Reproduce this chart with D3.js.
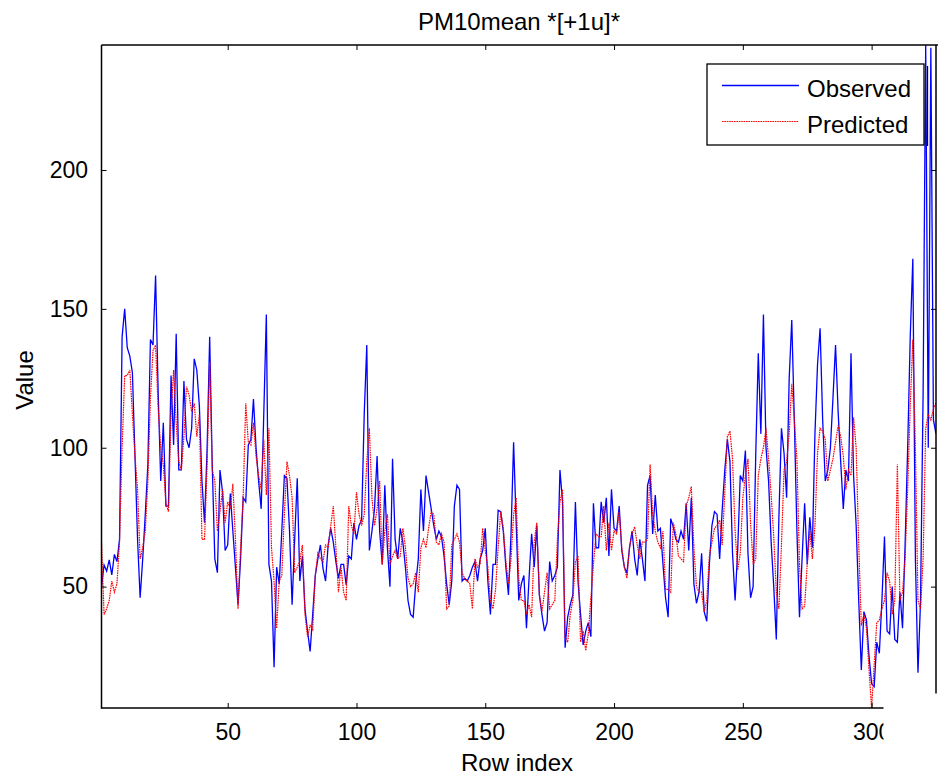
<!DOCTYPE html>
<html><head><meta charset="utf-8">
<script src="https://cdn.jsdelivr.net/npm/d3@7"></script>
<style>
body{margin:0;background:#fff}
svg{display:block}
text{font-family:"Liberation Sans",Arial,Helvetica,sans-serif;fill:#000}
</style>
</head><body>
<svg id="c" width="938" height="775"></svg>
<script>
const title = "PM10mean *[+1u]*";
const xLabel = "Row index";
const yLabel = "Value";
const seriesNames = ["Observed", "Predicted"];
const xTicks = [50, 100, 150, 200, 250, 300];
const yTicks = [50, 100, 150, 200];

const observed = [
 50, 57.8, 55.6, 59.6, 54.2, 61.6, 59, 67, 140, 150,
 136, 133, 127, 97, 67, 46, 60, 76, 94, 139,
 137, 162, 120, 88, 109, 79, 79, 126, 101, 141,
 92, 92, 124, 103, 100, 107, 132, 128, 115, 88,
 73, 99.6, 140, 93.6, 60, 55, 92, 84, 63, 65,
 83.5, 70, 57, 43.5, 60, 82, 80.5, 101, 103, 117.5,
 100, 88, 78, 112, 148, 58, 52, 21, 57, 51,
 70, 90, 89, 70, 43.5, 67, 89, 52, 61, 42,
 34, 26.7, 40, 54, 60, 65, 56.6, 52, 65, 71,
 66, 59, 53, 58, 58, 50.6, 61, 60, 73, 67,
 72, 74, 112, 137, 63, 70, 78, 97, 70, 58,
 86.5, 64, 50, 96, 67, 60, 71, 66, 57, 45,
 40, 39, 51, 60, 85, 70, 90, 84, 78, 72,
 67, 70, 68, 61, 51, 43.5, 52, 79, 86.5, 85,
 52, 53, 52, 54, 57, 59, 52, 60, 63, 71,
 52, 40, 58, 58, 77.5, 77, 70, 57, 47, 69,
 102, 73, 45, 51, 54, 35, 53, 69, 57, 72,
 47, 40, 34, 37, 59, 52, 54, 57, 92, 80.5,
 28, 39, 43.5, 47, 80.5, 52, 40, 29, 34, 37,
 32, 80, 64, 64, 80.5, 73, 82, 61, 85, 71,
 70, 79, 63, 57, 55, 64, 70, 60, 54, 67,
 60, 52, 86.5, 90, 69, 83, 70, 71, 58, 46,
 39, 74.5, 71.5, 67, 66, 70, 67, 80, 63, 82,
 51, 44, 48, 62, 41, 37.5, 58, 72, 77, 76,
 60, 78, 92, 103, 95, 62, 45, 63, 90, 88,
 99, 62, 46, 50, 97, 134, 105, 148, 100, 88,
 66, 50, 31, 75, 107, 98, 82, 125, 146, 110,
 70, 39, 60, 80, 58, 75, 64, 105, 130, 143,
 110, 88, 92, 100, 118, 137, 113, 95, 78, 92,
 88, 134, 90, 72, 45, 20, 41, 38, 25, 15,
 14, 30, 26, 45, 68, 34, 33, 50, 31, 30,
 48, 35, 65, 100, 140, 168, 60, 19, 45, 120,
 245, 100, 244, 110, 105
];

const predicted = [
 66, 40, 42, 45, 52, 48, 51, 66, 100, 126,
 126, 128, 112, 97, 85, 60, 64, 70, 88, 118,
 135, 137, 114, 100, 94, 80, 77, 112, 128, 109,
 95, 92, 104, 122, 119, 113, 116, 104, 112, 67,
 67, 93.6, 131, 92, 88, 70, 77, 85, 73, 80.5,
 78, 87, 67, 42, 64, 82, 116, 102, 101, 109,
 97, 90, 85, 103, 83, 107, 64, 52, 35, 52,
 54, 76, 95, 90, 82, 55, 57, 59, 65, 40,
 32, 36, 34.5, 54, 62, 60, 59, 65, 64, 72,
 79, 64, 48, 57, 48, 45, 79, 72, 69, 84,
 76, 72, 76, 95, 107, 82, 72, 78, 88, 58,
 70, 76, 58, 61, 63, 60, 61, 71, 64, 53,
 50, 51, 55, 48, 64, 67, 64, 71, 77, 76,
 66, 65, 69, 66, 42, 43, 65, 67, 69, 66,
 55, 53, 52, 51, 42, 60, 57, 58, 71, 63,
 57, 45, 42, 49, 64, 77, 71, 59, 51, 60,
 76, 82, 53, 45, 45, 40, 43.5, 39, 66, 73,
 47, 41, 48, 55, 42, 43.5, 45, 67, 80.5, 85,
 31.5, 30, 40, 45, 59, 61, 30, 34, 27, 33,
 46, 58, 69, 68, 68, 79, 63, 73, 63, 70,
 69, 77, 64, 57, 53, 64, 69, 71.5, 65, 60,
 66, 66, 67, 94, 76, 70, 66, 64, 70, 49,
 49, 48, 73, 69, 61, 60, 59, 79, 82, 86,
 64, 50, 48, 48, 41, 45, 61, 66, 71, 72,
 74, 65, 84, 104, 106, 96, 70, 56, 62, 82,
 90, 96, 73, 58, 60, 90, 96, 100, 107, 96,
 83, 68, 48, 42, 65, 92, 95, 105, 123, 110,
 96, 58, 42, 43, 58, 70, 60, 72, 98, 107,
 106, 103, 88, 92, 96, 102, 108, 104, 97, 85,
 92, 90, 111, 100, 65, 36, 40, 35, 20, 6.3,
 22, 37, 38, 42, 45, 55, 52, 40, 45, 94,
 45, 48, 60, 85, 115, 139, 100, 45, 42, 60,
 107, 112, 110, 114, 116
];

const rowIndex = observed.map((d, i) => i + 1);

const FONT = '"Liberation Sans",Arial,Helvetica,sans-serif';
const svg = d3.select("#c");
const L = 101.5, R = 936, T = 45, B = 708;

svg.append("rect").attr("width", 938).attr("height", 775).attr("fill", "#fff");

const x = d3.scaleLinear().domain([1, rowIndex.length]).range([L, R]);
const y = d3.scaleLinear().domain([6.3, 245]).range([B, T]);

svg.append("defs").append("clipPath").attr("id", "clip")
  .append("rect").attr("x", L).attr("y", T).attr("width", R - L).attr("height", B - T);

const line = d3.line().x((d, i) => x(rowIndex[i])).y(d => y(d));
const plot = svg.append("g").attr("clip-path", "url(#clip)");
plot.append("path").datum(observed).attr("d", line)
  .attr("fill", "none").attr("stroke", "#0000ff").attr("stroke-width", 1.3);
plot.append("path").datum(predicted).attr("d", line)
  .attr("fill", "none").attr("stroke", "#ff0000").attr("stroke-width", 1.2)
  .attr("stroke-dasharray", "1.6,0.8");

// axes
function styleAxis(g) {
  g.attr("font-family", FONT).attr("font-size", 23);
  g.select(".domain").remove();
  g.selectAll(".tick line").attr("stroke", "#000").attr("stroke-width", 1);
  g.selectAll(".tick text").attr("fill", "#000");
}
const gx = svg.append("g").attr("transform", `translate(0,${B})`)
  .call(d3.axisBottom(x).tickValues(xTicks).tickSizeInner(-5).tickSizeOuter(0).tickPadding(15.5));
styleAxis(gx);
const gxt = svg.append("g").attr("transform", `translate(0,${T})`)
  .call(d3.axisTop(x).tickValues(xTicks).tickSizeInner(-5).tickSizeOuter(0).tickFormat(""));
styleAxis(gxt);
const gy = svg.append("g").attr("transform", `translate(${L},0)`)
  .call(d3.axisLeft(y).tickValues(yTicks).tickSizeInner(-5).tickSizeOuter(0).tickPadding(13.5));
styleAxis(gy);
const gyr = svg.append("g").attr("transform", `translate(${R},0)`)
  .call(d3.axisRight(y).tickValues(yTicks).tickSizeInner(-5).tickSizeOuter(0).tickFormat(""));
styleAxis(gyr);

// white cut-out at lower right (as in reference)
svg.append("rect").attr("x", 883.5).attr("y", 693.5).attr("width", 60).attr("height", 90).attr("fill", "#fff");

// box lines
const box = svg.append("g").attr("stroke", "#000").attr("fill", "none");
box.append("line").attr("x1", L).attr("x2", L).attr("y1", T).attr("y2", B + 0.75).attr("stroke-width", 1.5);
box.append("line").attr("x1", L).attr("x2", 883.5).attr("y1", B).attr("y2", B).attr("stroke-width", 1.5);
box.append("line").attr("x1", L).attr("x2", 938).attr("y1", T).attr("y2", T).attr("stroke-width", 1.5);
box.append("line").attr("x1", R).attr("x2", R).attr("y1", T).attr("y2", 693.5).attr("stroke-width", 1.5);

// legend
const lg = svg.append("g");
lg.append("rect").attr("x", 707).attr("y", 64).attr("width", 217).attr("height", 81)
  .attr("fill", "#fff").attr("stroke", "#000").attr("stroke-width", 1.3);
lg.append("line").attr("x1", 927.5).attr("x2", 927.5).attr("y1", 66).attr("y2", 146)
  .attr("stroke", "#000").attr("stroke-width", 1.3);
const legendColors = ["#0000ff", "#ff0000"];
const legendDash = [null, "1.6,0.8"];
const legendWidth = [1.3, 1.2];
seriesNames.forEach((name, i) => {
  const yy = 85.5 + i * 36;
  lg.append("line").attr("x1", 722).attr("x2", 799).attr("y1", yy).attr("y2", yy)
    .attr("stroke", legendColors[i]).attr("stroke-width", legendWidth[i])
    .attr("stroke-dasharray", legendDash[i]);
  lg.append("text").attr("x", 807).attr("y", yy + 11.5).attr("font-size", 24).text(name);
});

// title and labels
svg.append("text").attr("x", 519).attr("y", 30).attr("text-anchor", "middle")
  .attr("font-size", 24).text(title);
svg.append("text").attr("x", 517).attr("y", 771).attr("text-anchor", "middle")
  .attr("font-size", 24).text(xLabel);
svg.append("text").attr("transform", "translate(33,380) rotate(-90)").attr("text-anchor", "middle")
  .attr("font-size", 24).text(yLabel);
</script>
</body></html>
